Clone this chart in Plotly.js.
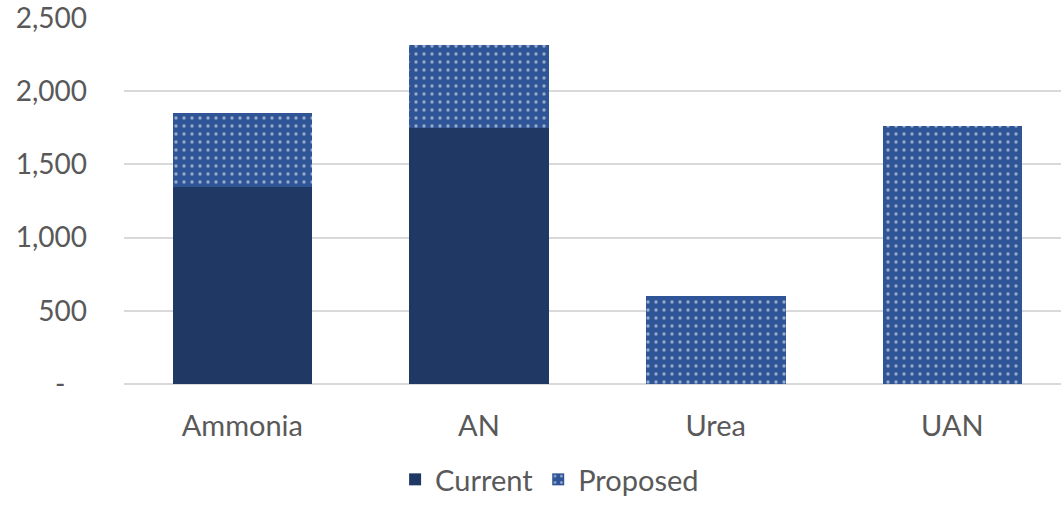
<!DOCTYPE html>
<html>
<head>
<meta charset="utf-8">
<script src="https://cdn.plot.ly/plotly-3.0.1.min.js"></script>
<style>
  html, body { margin: 0; padding: 0; background: #ffffff; }
  #chart { width: 1061px; height: 505px; }
</style>
</head>
<body>
<div id="chart"></div>
<script>
// Product categories and capacity per series
const categories = ['Ammonia', 'AN', 'Urea', 'UAN'];
const currentValues = [1345, 1750, 0, 0];
const proposedValues = [505, 565, 600, 1760];
const yTickValues = [0, 500, 1000, 1500, 2000, 2500];
const yTickLabels = ['-\u00a0\u00a0\u00a0', '500', '1,000', '1,500', '2,000', '2,500'];

const textColor = '#595959';
const fontFamily = 'Lato, "Open Sans", sans-serif';

const traces = [
  {
    type: 'bar',
    name: 'Current',
    x: categories,
    y: currentValues,
    marker: { color: '#1F3864', line: { width: 0 } },
    hoverinfo: 'skip'
  },
  {
    type: 'bar',
    name: 'Proposed',
    x: categories,
    y: proposedValues,
    marker: {
      color: '#2F5597',
      line: { width: 0 },
      pattern: {
        shape: '.',
        fgcolor: '#ffffff',
        bgcolor: '#2F5597',
        fillmode: 'overlay',
        size: 8,
        solidity: 0.14
      }
    },
    hoverinfo: 'skip'
  }
];

const layout = {
  width: 1061,
  height: 505,
  margin: { l: 124, r: 0, t: 18, b: 121, autoexpand: false },
  paper_bgcolor: '#ffffff',
  plot_bgcolor: '#ffffff',
  barmode: 'stack',
  bargap: 0.41,
  font: { family: fontFamily, color: textColor, size: 28 },
  xaxis: {
    type: 'category',
    range: [-0.5, 3.459],
    showgrid: false,
    zeroline: false,
    showline: false,
    ticks: '',
    tickfont: { size: 29, color: textColor },
    ticklabelstandoff: 22,
    fixedrange: true
  },
  yaxis: {
    range: [0, 2500],
    tickvals: yTickValues,
    ticktext: yTickLabels,
    showgrid: true,
    gridcolor: '#D9D9D9',
    gridwidth: 2,
    zeroline: true,
    zerolinecolor: '#D9D9D9',
    zerolinewidth: 2,
    showline: false,
    ticks: '',
    tickfont: { size: 28, color: textColor },
    ticklabelstandoff: 36,
    ticklabeloverflow: 'allow',
    fixedrange: true
  },
  showlegend: true,
  legend: {
    orientation: 'h',
    xref: 'container',
    x: 0.518,
    xanchor: 'center',
    yref: 'container',
    y: -0.014,
    yanchor: 'bottom',
    font: { size: 29, color: textColor },
    itemwidth: 30,
    traceorder: 'normal',
    bgcolor: 'rgba(0,0,0,0)'
  }
};

Plotly.newPlot('chart', traces, layout, { displayModeBar: false, staticPlot: true });
</script>
</body>
</html>
